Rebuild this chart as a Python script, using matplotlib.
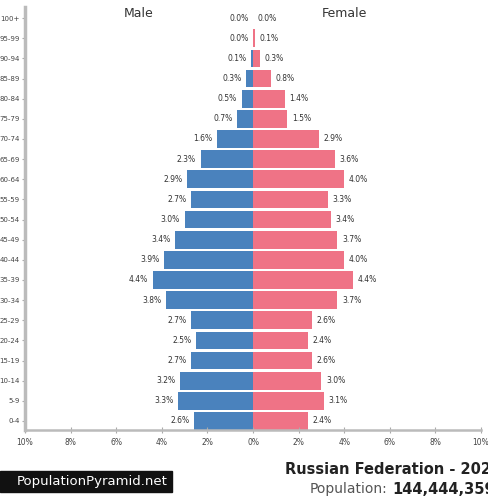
import numpy as np
import matplotlib.pyplot as plt
from matplotlib.patches import Rectangle

ages = ["0-4", "5-9", "10-14", "15-19", "20-24", "25-29", "30-34", "35-39",
        "40-44", "45-49", "50-54", "55-59", "60-64", "65-69", "70-74",
        "75-79", "80-84", "85-89", "90-94", "95-99", "100+"]
male = [2.6, 3.3, 3.2, 2.7, 2.5, 2.7, 3.8, 4.4, 3.9, 3.4, 3.0, 2.7, 2.9,
        2.3, 1.6, 0.7, 0.5, 0.3, 0.1, 0.0, 0.0]
female = [2.4, 3.1, 3.0, 2.6, 2.4, 2.6, 3.7, 4.4, 4.0, 3.7, 3.4, 3.3, 4.0,
          3.6, 2.9, 1.5, 1.4, 0.8, 0.3, 0.1, 0.0]
xticks = [-10, -8, -6, -4, -2, 0, 2, 4, 6, 8, 10]
xticklabels = ["10%", "8%", "6%", "4%", "2%", "0%", "2%", "4%", "6%", "8%", "10%"]

W, H = 488, 501
fig = plt.figure(figsize=(W / 100, H / 100), dpi=100)
ax = fig.add_axes([25 / W, 1 - 430 / H, (481 - 25) / W, (430 - 7) / H])

y = np.arange(len(ages))
blue = "#4a82bd"
pink = "#ef7386"
ax.barh(y, [-m for m in male], height=0.88, color=blue, edgecolor="none")
ax.barh(y, female, height=0.88, color=pink, edgecolor="none")

for i in range(len(ages)):
    ax.text(-male[i] - 0.2, y[i], "%.1f%%" % male[i], ha="right", va="center",
            fontsize=5.5, color="#333333")
    ax.text(female[i] + 0.2, y[i], "%.1f%%" % female[i], ha="left", va="center",
            fontsize=5.5, color="#333333")

ax.text(-5.0, 20.25, "Male", ha="center", va="center", fontsize=9, color="#333333")
ax.text(4.0, 20.25, "Female", ha="center", va="center", fontsize=9, color="#333333")

ax.set_xlim(-10, 10)
ax.set_ylim(-0.45, 20.55)
ax.set_xticks(xticks)
ax.set_xticklabels(xticklabels, fontsize=5.5, color="#444444")
ax.set_yticks(y)
ax.set_yticklabels(ages, fontsize=5, color="#444444")
ax.tick_params(axis="x", direction="inout", length=5, color="#aaaaaa", pad=3)
ax.tick_params(axis="y", length=2, color="#aaaaaa", pad=2)
for s in ["top", "right"]:
    ax.spines[s].set_visible(False)
ax.spines["left"].set_color("#bbbbbb")
ax.spines["left"].set_linewidth(2.5)
ax.spines["bottom"].set_color("#bbbbbb")
ax.spines["bottom"].set_linewidth(1.8)

fig.text(285 / W, 1 - 470 / H, "Russian Federation - 2020", fontsize=10.5,
         fontweight="bold", color="#222222", va="center", ha="left")
pop = fig.text(310 / W, 1 - 489 / H, "Population:", fontsize=10, color="#555555",
               va="center", ha="left")
fig.text(0, 0, "144,444,359", fontsize=10.5, fontweight="bold", color="#222222",
         va="center", ha="left")
fig.texts[-1].remove()
ax.annotate("144,444,359", xy=(1, 0.5), xycoords=pop, xytext=(3, 0),
            textcoords="offset points", fontsize=10.5, fontweight="bold",
            color="#222222", va="center", ha="left", annotation_clip=False)

fig.patches.append(Rectangle((0, 1 - 492 / H), 172 / W, 21 / H,
                             transform=fig.transFigure, color="#111111"))
fig.text(168 / W, 1 - 481 / H, "PopulationPyramid.net", fontsize=9.5,
         color="white", va="center", ha="right")

fig.savefig("out.png", dpi=100, facecolor="white")
